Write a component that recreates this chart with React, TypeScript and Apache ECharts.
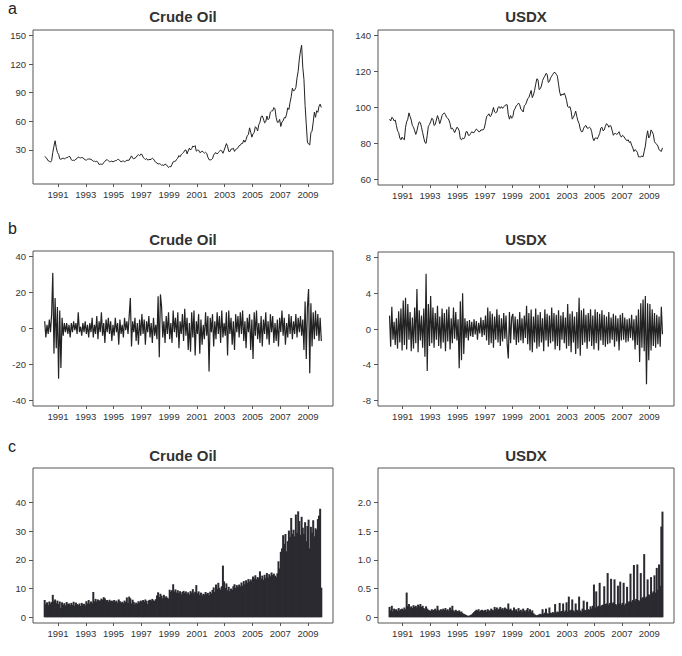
import React, { useEffect, useRef } from "react";
import * as echarts from "echarts";

const startYear = 1990;
const yearTicks = [1991, 1993, 1995, 1997, 1999, 2001, 2003, 2005, 2007, 2009];

// Panel a: price levels (monthly readings)
const crudeLevel = [
  22.9, 22.1, 20.4, 18.4, 18.2, 16.9, 18.6, 27.2, 33.7, 39.5, 32.3, 27.3,
  25.2, 20.5, 19.9, 20.8, 21.2, 20.2, 21.4, 21.7, 21.9, 23.2, 22.5, 19.5,
  18.8, 19.0, 18.9, 20.2, 20.9, 22.4, 21.8, 21.4, 21.9, 21.7, 20.3, 19.4,
  19.1, 20.1, 20.3, 20.3, 19.9, 19.1, 17.9, 18.0, 17.5, 18.1, 16.7, 14.5,
  15.0, 14.8, 14.7, 16.4, 17.9, 19.1, 19.7, 18.4, 17.5, 17.7, 18.1, 17.2,
  18.0, 18.5, 18.6, 19.9, 19.7, 18.5, 17.3, 18.0, 18.2, 17.4, 18.0, 19.0,
  18.9, 19.1, 21.4, 23.6, 21.2, 20.5, 21.3, 22.0, 24.0, 24.9, 23.7, 25.4,
  25.2, 22.2, 21.0, 19.7, 20.8, 19.2, 19.6, 19.9, 19.8, 21.3, 20.2, 18.3,
  16.7, 16.1, 15.0, 15.4, 14.9, 13.7, 14.1, 13.4, 15.0, 14.4, 12.9, 11.3,
  12.5, 12.0, 14.7, 17.3, 17.8, 17.9, 20.1, 21.3, 23.9, 22.6, 25.0, 26.1,
  27.2, 29.4, 29.9, 25.7, 28.8, 31.8, 29.7, 31.3, 33.9, 33.1, 34.4, 28.5,
  29.6, 29.6, 27.2, 27.4, 28.6, 27.6, 26.4, 27.4, 26.2, 22.2, 19.6, 19.3,
  19.7, 20.7, 24.4, 26.3, 27.0, 25.5, 26.9, 28.4, 29.7, 28.9, 26.3, 29.4,
  32.9, 36.5, 33.6, 28.3, 28.1, 30.7, 30.8, 31.6, 28.3, 30.3, 31.1, 32.1,
  34.3, 34.7, 36.7, 36.7, 40.3, 38.0, 40.7, 44.9, 45.9, 53.1, 48.5, 43.3,
  46.8, 48.0, 54.3, 53.0, 49.8, 56.4, 59.0, 65.0, 65.6, 62.4, 58.3, 59.4,
  65.5, 61.6, 62.9, 69.7, 70.9, 70.9, 74.4, 73.0, 63.8, 58.9, 59.1, 62.0,
  54.5, 59.3, 60.4, 63.9, 63.5, 67.5, 74.1, 72.4, 79.9, 85.8, 94.8, 91.7,
  93.0, 95.4, 105.5, 112.6, 125.4, 133.9, 140.0, 116.7, 104.1, 76.6, 57.3, 38.0,
  36.0, 35.0, 47.9, 49.7, 59.0, 69.6, 64.2, 71.1, 69.4, 75.7, 78.0, 74.5,
];

const usdxLevel = [
  93.5, 92.5, 94.5, 94.0, 92.5, 93.0, 90.0, 87.0, 86.0, 83.0, 82.0, 83.5,
  82.5, 82.0, 89.0, 92.0, 93.5, 97.0, 95.0, 93.0, 90.0, 89.0, 87.0, 85.0,
  87.0, 90.0, 92.0, 91.5, 89.0, 86.0, 83.0, 80.5, 80.0, 84.5, 89.5, 90.5,
  92.0, 94.0, 93.5, 90.0, 90.5, 93.0, 95.5, 93.5, 91.0, 93.0, 95.5, 96.5,
  97.0, 96.0, 94.5, 94.0, 93.0, 91.0, 88.0, 88.5, 87.5, 86.0, 87.5, 89.0,
  88.5, 87.0, 82.5, 82.0, 83.0, 82.5, 83.5, 86.5, 86.5, 84.5, 84.5, 85.5,
  86.5, 86.0, 86.0, 87.0, 88.0, 87.5, 86.5, 86.5, 87.5, 87.5, 87.5, 88.5,
  91.5, 95.0, 95.5, 96.5, 95.0, 95.5, 97.5, 100.0, 97.5, 97.0, 97.5, 100.0,
  100.5, 99.5, 100.5, 99.5, 100.5, 101.0, 101.5, 101.5, 96.0, 93.5, 95.5, 94.0,
  95.0, 98.5, 99.5, 101.0, 101.5, 102.5, 101.5, 99.0, 98.5, 97.5, 101.0, 101.5,
  103.0, 105.0, 105.5, 107.5, 109.5, 105.5, 107.0, 109.5, 113.0, 116.0, 115.5, 110.0,
  110.5, 112.0, 115.0, 116.5, 117.5, 119.0, 118.5, 114.0, 114.5, 116.5, 117.5, 118.5,
  119.5, 119.5, 118.5, 117.5, 113.0, 108.5, 106.5, 107.5, 107.0, 108.0, 106.5, 104.0,
  100.5, 100.0, 100.5, 98.0, 93.5, 94.5, 96.0, 98.0, 95.0, 92.5, 91.0, 88.0,
  86.5, 86.5, 88.5, 89.5, 90.0, 88.5, 88.5, 89.0, 88.5, 86.5, 83.0, 81.5,
  83.0, 83.0, 82.5, 84.0, 85.5, 88.5, 89.0, 87.0, 87.5, 89.5, 91.0, 90.5,
  89.0, 90.0, 89.5, 87.0, 84.5, 85.5, 85.5, 85.0, 85.5, 86.5, 84.5, 83.5,
  84.5, 84.0, 83.0, 82.0, 81.5, 82.0, 80.5, 81.0, 79.0, 77.5, 75.5, 76.5,
  76.0, 75.0, 72.5, 72.5, 72.5, 73.0, 72.5, 75.5, 78.5, 83.5, 87.0, 83.0,
  84.0, 87.5, 86.5, 85.0, 81.0, 80.0, 79.5, 78.5, 76.5, 76.0, 75.5, 77.5,
];

// Panel b: returns
const crudeReturn = [
  4, -5, 2, -3, 5, -2, 8, 31, -14, 17, -11, 12,
  -28, 10, -22, 6, -4, 3, -2, 3, -3, 2, -5, 3,
  -2, 4, -1, 3, -3, 9, -2, 1, -4, 3, -2, 4,
  -3, 2, -5, 3, -2, 6, -5, 2, -3, 7, -6, 4,
  -2, 9, -4, 3, -8, 5, -2, 6, -3, 4, -7, 2,
  -4, 6, -2, 3, -9, 5, -3, 2, -5, 6, -1, 4,
  -3, 7, 17, -10, 4, -2, 6, -7, 3, -9, 5, -4,
  8, -3, 5, -9, 4, -2, 7, -5, 3, -8, 6, -4,
  2, -6, 18, -16, 19, 12, -5, 4, -8, 7, -3, 9,
  -6, 3, -8, 10, -2, 6, -5, 9, -11, 4, -3, 8,
  -7, 11, -4, 6, -12, 3, -13, 9, -5, 10, -15, 4,
  -3, 8, -14, 5, -9, 2, -6, 9, -4, 7, -24, 6,
  -2, 8, -10, 4, -6, 9, -3, 7, -8, 10, -5, 3,
  -4, 9, -15, 10, -3, 6, -9, 4, -12, 8, -2, 7,
  -5, 9, -3, 10, -7, 4, -11, 6, -2, 8, -12, 5,
  -17, 9, -4, 10, -6, 3, -8, 7, -10, 5, -3, 9,
  -6, 4, -9, 8, -2, 7, -8, 3, -7, 5, -10, 6,
  -2, 10, -4, 6, -9, 3, -5, 8, -3, 7, -6, 4,
  -3, 8, -5, 6, -2, 7, -4, 5, -12, 15, -17, 12,
  22, -25, 14, -10, 9, -6, 10, -4, 8, -7, 6, -7,
];

const usdxReturn = [
  1.5, -2, 2.5, -1.2, 0.8, -1.8, 1.2, -2.2, 2, -1.5, 2.3, -2.4,
  3.2, -1.8, 3.5, -2.3, 2.8, -1.2, 1.9, -2.5, 1.3, -2.2, 2.4, -1.6,
  4.5, -2.6, 2.1, -1.3, 1.5, -2.1, 2.3, -3.1, 6.2, -4.7, 2.8, -1.9,
  3.7, -1.6, 2.4, -2.1, 1.8, -1.2, 2.6, -1.9, 1.4, -2.2, 2.3, -1.5,
  1.8, -2.5, 2.2, -1.4, 2.5, -2.3, 1.2, -1.6, 2.4, -1.1, 1.9, -1.3,
  1.1, -4.4, 3.1, -3.5, 4.0, -2.8, 1.2, -1.0, 0.9, -1.3, 1.0, -0.8,
  0.8, -0.9, 1.1, -0.6, 0.9, -1.2, 0.7, -0.5, 1.3, -0.9, 1.0, -0.7,
  1.5, -1.3, 2.4, -1.8, 2.0, -1.6, 1.7, -2.1, 1.4, -1.2, 2.2, -1.5,
  1.6, -1.9, 1.2, -1.4, 1.8, -1.1, 1.5, -1.7, -3.3, 1.9, -1.6, 1.3,
  1.7, -1.2, 1.4, -1.8, 1.1, -1.5, 1.9, -1.3, 1.2, -1.6, 1.5, -1.0,
  2.6, -1.7, 1.8, -2.4, 2.2, -2.6, 1.4, -1.5, 2.3, -2.2, 1.6, -2.0,
  1.9, -1.5, 1.2, -2.5, 2.2, -1.3, 1.7, -2.0, 1.5, -1.6, 2.4, -1.4,
  1.8, -2.3, 1.6, -1.9, 2.1, -2.4, 1.5, -1.2, 1.9, -1.6, 1.3, -2.2,
  2.8, -1.9, 1.7, -2.6, 2.0, -1.5, 1.4, -2.8, 1.9, -2.2, 3.5, -3.0,
  2.1, -1.8, 2.3, -1.5, 1.6, -2.2, 1.8, -1.4, 2.2, -1.9, 1.5, -2.3,
  2.2, -1.6, 1.9, -2.4, 1.7, -1.3, 2.1, -1.8, 1.6, -2.0, 1.4, -1.7,
  1.9, -1.6, 1.3, -1.2, 1.7, -2.0, 1.5, -1.4, 1.2, -2.4, 1.6, -1.3,
  1.8, -1.2, 1.3, -1.5, 1.1, -1.4, 1.2, -1.0, 1.6, -1.3, 1.1, -2.3,
  1.5, -1.8, 2.2, -3.7, 2.9, -2.1, 3.3, -2.5, 3.7, -6.2, 2.9, -3.5,
  2.8, -2.4, 2.2, -1.9, 1.8, -2.1, 1.6, -1.7, 1.4, -2.0, 2.5, -0.6,
];

// Panel c: volatility
const crudeVol = [
  6.0, 4.5, 5.2, 4.2, 5.5, 4.8, 5.3, 7.8, 5.6, 6.2, 4.9, 5.8,
  4.6, 5.5, 3.2, 5.2, 4.4, 4.9, 4.1, 5.3, 4.5, 4.8, 4.2, 5.0,
  4.3, 5.4, 4.0, 5.1, 4.6, 4.2, 4.8, 3.9, 5.0, 4.4, 4.7, 4.1,
  5.6, 4.8, 6.0, 4.7, 5.5, 4.9, 8.8, 5.6, 6.4, 5.5, 6.2, 5.8,
  5.9, 6.5, 6.1, 7.0, 6.6, 5.9, 6.0, 5.4, 6.1, 5.6, 5.8, 5.5,
  6.0, 5.4, 5.8, 5.1, 6.2, 5.6, 5.0, 5.4, 4.9, 5.8, 5.3, 6.9,
  5.0, 7.2, 6.6, 4.8, 6.1, 5.3, 4.5, 5.1, 4.7, 5.6, 5.2, 5.8,
  5.5, 6.0, 5.4, 6.2, 5.7, 4.6, 5.9, 6.1, 5.8, 6.4, 5.9, 5.7,
  6.3, 7.6, 8.7, 7.1, 8.2, 7.5, 6.6, 7.8, 6.9, 7.3, 6.8, 6.5,
  9.6, 8.8, 9.4, 11.5, 9.0, 9.7, 8.6, 9.4, 8.4, 9.1, 8.0, 8.8,
  9.2, 8.5, 9.0, 8.1, 8.7, 7.9, 9.1, 8.6, 9.8, 8.3, 8.9, 11.2,
  8.4, 9.0, 7.8, 8.6, 7.5, 8.2, 7.9, 8.8, 8.1, 8.5, 7.7, 8.9,
  8.3, 9.5, 10.4, 8.8, 11.4, 9.9, 12.0, 10.3, 9.6, 10.8, 18.0, 12.5,
  10.2, 11.8, 9.4, 10.6, 9.1, 10.0, 9.6, 10.8, 11.5, 10.2, 11.2, 10.6,
  11.4, 10.8, 12.1, 11.0, 12.6, 11.5, 12.9, 12.0, 13.3, 12.4, 13.2, 12.6,
  14.2, 13.5, 14.6, 13.2, 14.0, 13.6, 16.0, 13.4, 14.5, 13.1, 14.8, 13.7,
  15.4, 13.8, 15.0, 14.3, 15.6, 14.7, 15.2, 14.5, 14.0, 15.3, 19.5, 17.0,
  22.8, 24.0, 28.6, 25.5, 29.0, 23.0, 26.5, 30.2, 28.0, 34.6, 29.1, 30.5,
  28.2, 35.8, 29.4, 36.9, 33.5, 28.7, 35.0, 31.2, 29.0, 33.1, 26.5, 31.8,
  34.0, 24.0, 31.5, 29.5, 33.8, 28.2, 31.0, 30.5, 34.2, 35.4, 37.8, 10.3,
];

const usdxVol = [
  0.18, 0.12, 0.2, 0.1, 0.15, 0.13, 0.14, 0.11, 0.16, 0.12, 0.14, 0.15,
  0.13, 0.17, 0.14, 0.43, 0.2, 0.23, 0.17, 0.19, 0.16, 0.21, 0.18, 0.2,
  0.17, 0.22, 0.19, 0.23, 0.18, 0.2, 0.16, 0.14, 0.19, 0.15, 0.13, 0.12,
  0.11, 0.14, 0.12, 0.13, 0.15, 0.12, 0.2, 0.13, 0.11, 0.14, 0.12, 0.15,
  0.13, 0.16, 0.12, 0.14, 0.11, 0.17, 0.13, 0.2, 0.12, 0.1, 0.13, 0.11,
  0.1, 0.12, 0.09, 0.1, 0.07, 0.06, 0.05, 0.04, 0.03, 0.02, 0.03, 0.04,
  0.05, 0.07, 0.09, 0.11, 0.13, 0.12, 0.14, 0.1, 0.12, 0.13, 0.11, 0.12,
  0.13, 0.1, 0.14, 0.12, 0.11, 0.15, 0.13, 0.12, 0.18, 0.14, 0.17, 0.13,
  0.15, 0.18, 0.14, 0.16, 0.13, 0.17, 0.15, 0.14, 0.24, 0.13, 0.15, 0.12,
  0.11, 0.17, 0.12, 0.14, 0.1, 0.16, 0.11, 0.13, 0.09, 0.15, 0.12, 0.1,
  0.13, 0.16, 0.1, 0.14, 0.09, 0.12, 0.07, 0.05, 0.04, 0.03, 0.04, 0.05,
  0.06, 0.05, 0.14, 0.06, 0.08, 0.15, 0.07, 0.06, 0.17, 0.08, 0.07, 0.09,
  0.07, 0.23, 0.08, 0.1, 0.09, 0.25, 0.1, 0.11, 0.24, 0.09, 0.12, 0.26,
  0.1, 0.36, 0.11, 0.13, 0.31, 0.12, 0.1, 0.24, 0.13, 0.11, 0.36, 0.12,
  0.1, 0.15, 0.29, 0.13, 0.12, 0.27, 0.14, 0.13, 0.19, 0.15, 0.2, 0.57,
  0.17, 0.45, 0.18, 0.2, 0.6, 0.19, 0.21, 0.22, 0.54, 0.23, 0.24, 0.77,
  0.22, 0.25, 0.67, 0.24, 0.26, 0.66, 0.23, 0.21, 0.55, 0.24, 0.62, 0.22,
  0.25, 0.6, 0.21, 0.24, 0.53, 0.26, 0.28, 0.76, 0.27, 0.3, 0.91, 0.29,
  0.32, 0.92, 0.3, 0.28, 0.77, 0.33, 0.35, 1.1, 0.34, 0.36, 0.66, 0.4,
  0.38, 0.7, 0.42, 0.45, 0.73, 0.43, 0.86, 0.48, 0.92, 0.55, 1.58, 1.84,
];

const titles = ["Crude Oil", "USDX", "Crude Oil", "USDX", "Crude Oil", "USDX"];
const panelLetters = ["a", "b", "c"];

const yTicksA1 = [30, 60, 90, 120, 150];
const yTicksA2 = [60, 80, 100, 120, 140];
const yTicksB1 = [-40, -20, 0, 20, 40];
const yTicksB2 = [-8, -4, 0, 4, 8];
const yTicksC1 = [0, 10, 20, 30, 40];
const yTicksC2 = [0, 0.5, 1.0, 1.5, 2.0];

const FONT = "'Liberation Sans', Arial, Helvetica, sans-serif";

export default function App() {
  const ref = useRef<HTMLDivElement>(null);

  useEffect(() => {
    if (!ref.current) return;
    const chart = echarts.init(ref.current, null, { renderer: "svg" });

    const toPts = (arr: number[]) => arr.map((v, i) => [startYear + (i + 0.5) / 12, v]);

    const panels = [
      { grid: { left: 33, top: 30, width: 300, height: 154 }, min: -6, max: 156, ticks: yTicksA1, data: crudeLevel, kind: "line", fmt: (v: number) => String(v) },
      { grid: { left: 378, top: 30, width: 296, height: 155 }, min: 56.8, max: 143.2, ticks: yTicksA2, data: usdxLevel, kind: "line", fmt: (v: number) => String(v) },
      { grid: { left: 33, top: 251, width: 300, height: 155 }, min: -43.2, max: 43.2, ticks: yTicksB1, data: crudeReturn, kind: "ret", fmt: (v: number) => String(v) },
      { grid: { left: 378, top: 252, width: 296, height: 154 }, min: -8.64, max: 8.64, ticks: yTicksB2, data: usdxReturn, kind: "ret", fmt: (v: number) => String(v) },
      { grid: { left: 33, top: 468, width: 300, height: 155 }, min: -2, max: 52, ticks: yTicksC1, data: crudeVol, kind: "bar", fmt: (v: number) => String(v) },
      { grid: { left: 378, top: 468, width: 296, height: 155 }, min: -0.1, max: 2.6, ticks: yTicksC2, data: usdxVol, kind: "bar", fmt: (v: number) => (v === 0 ? "0" : v.toFixed(1)) },
    ];

    const grids = panels.map((p) => ({ ...p.grid, show: true, borderColor: "#555", borderWidth: 1, containLabel: false, backgroundColor: "transparent" }));

    const xAxes = panels.map((_, k) => ({
      type: "value",
      gridIndex: k,
      min: 1989.2,
      max: 2010.8,
      axisLine: { show: false, onZero: false },
      axisTick: { show: true, length: 3, lineStyle: { color: "#555", width: 1 }, customValues: yearTicks },
      axisLabel: { customValues: yearTicks, fontSize: 9.5, color: "#333", margin: 5, fontFamily: FONT, formatter: (v: number) => String(v) },
      splitLine: { show: false },
    }));

    const yAxes = panels.map((p, k) => ({
      type: "value",
      gridIndex: k,
      min: p.min,
      max: p.max,
      axisLine: { show: false, onZero: false },
      axisTick: { show: true, length: 4, lineStyle: { color: "#555", width: 1 }, customValues: p.ticks },
      axisLabel: { customValues: p.ticks, fontSize: 9.5, color: "#333", margin: 7, fontFamily: FONT, formatter: p.fmt },
      splitLine: { show: false },
    }));

    const series = panels.map((p, k) => {
      if (p.kind === "bar") {
        return {
          type: "bar",
          xAxisIndex: k,
          yAxisIndex: k,
          data: toPts(p.data),
          barWidth: 2,
          itemStyle: { color: "#2a2a30" },
          silent: true,
        };
      }
      return {
        type: "line",
        xAxisIndex: k,
        yAxisIndex: k,
        data: toPts(p.data),
        symbol: "none",
        showSymbol: false,
        lineStyle: { width: p.kind === "ret" ? 1.2 : 1, color: "#222" },
        silent: true,
      };
    });

    const titleX = [183, 526, 183, 526, 183, 526];
    const titleY = [16, 16, 239, 239, 455, 455];
    const letterY = [8, 228, 446];

    const graphic: any[] = [];
    titles.forEach((t, i) => {
      graphic.push({
        type: "text",
        x: titleX[i],
        y: titleY[i],
        style: { text: t, font: `bold 15px ${FONT}`, fill: "#333", align: "center", verticalAlign: "middle" },
      });
    });
    panelLetters.forEach((l, i) => {
      graphic.push({
        type: "text",
        x: 8,
        y: letterY[i],
        style: { text: l, font: `16px ${FONT}`, fill: "#222", align: "left", verticalAlign: "middle", lineHeight: 14 },
      });
    });

    chart.setOption({
      animation: false,
      backgroundColor: "#fff",
      grid: grids,
      xAxis: xAxes,
      yAxis: yAxes,
      series,
      graphic,
    });

    return () => chart.dispose();
  }, []);

  return (
    <div
      ref={ref}
      style={{ position: "fixed", left: 0, top: 0, width: 682, height: 656, background: "#fff" }}
    />
  );
}
